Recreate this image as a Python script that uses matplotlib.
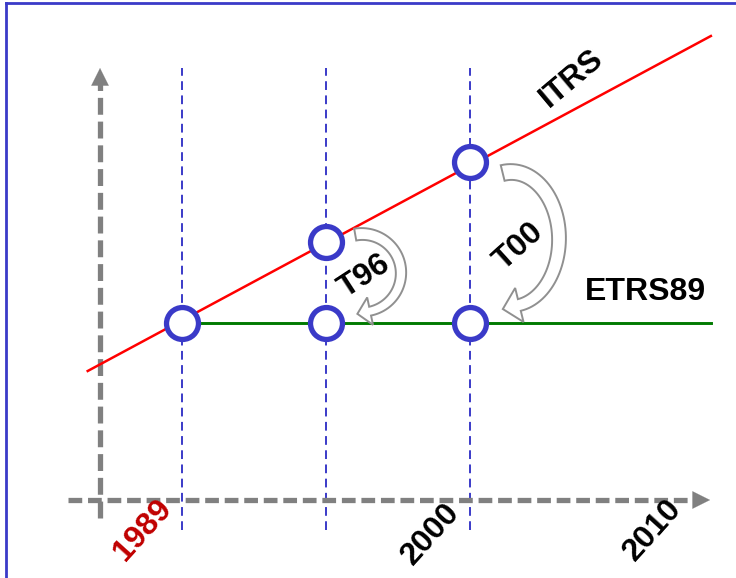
import numpy as np
import matplotlib.pyplot as plt
from matplotlib.patches import Polygon

plt.rcParams['font.family'] = ['Liberation Sans', 'DejaVu Sans']

# Schematic data (x = epoch in years, y = coordinate value, arbitrary units)
epoch_years = [1989, 1994.5, 2000]
etrs_years = [1989, 2009.2]
etrs_values = [17.7, 17.7]
itrs_years = [1985.4, 2009.2]
itrs_values = [12.9, 46.4]
itrs_circle_years = [1994.5, 2000]
itrs_circle_values = [25.8, 33.8]
etrs_circle_values = [17.7, 17.7, 17.7]
tick_years = [1989, 2000, 2010]
tick_labels = ['1989', '2000', '2010']
tick_colors = ['#c00000', 'black', 'black']

blue = '#3a3ac8'
gray = '#808080'

fig = plt.figure(figsize=(7.36, 5.78), dpi=100)
ax = fig.add_axes([0, 0, 1, 1])
ax.set_xlim(1982.05, 2010.16)
ax.set_ylim(-7.8, 50)
ax.axis('off')


def px_to_data(px, py):
    # convert picture pixels to the schematic year/value scale
    return 1989 + (np.asarray(px) - 182) / 26.18, (500 - np.asarray(py)) / 10


def curved_arrow(cx, cy, rx, ry, th0, th1, w0, w1, head_w, head_l):
    # hollow curved arrow following an elliptic arc (pixel space)
    th = np.radians(np.linspace(th0, th1, 60))
    c = np.column_stack([cx + rx * np.cos(th), cy - ry * np.sin(th)])
    t = np.column_stack([rx * np.sin(th), ry * np.cos(th)])
    t /= np.linalg.norm(t, axis=1)[:, None]
    n = np.column_stack([t[:, 1], -t[:, 0]])
    w = np.linspace(w0, w1, len(th))[:, None] / 2
    left = c + w * n
    right = c - w * n
    ce, te, ne = c[-1], t[-1], n[-1]
    head = [ce + head_w / 2 * ne, ce + head_l * te, ce - head_w / 2 * ne]
    pts = np.vstack([left, head, right[::-1]])
    x, y = px_to_data(pts[:, 0], pts[:, 1])
    return Polygon(np.column_stack([x, y]), closed=True, fc='white',
                   ec='#909090', lw=1.4, zorder=4)


# frame (only top and left edges visible)
fig.add_artist(plt.Line2D([0.008, 1.0], [0.9945, 0.9945], color=blue, lw=2,
                          transform=fig.transFigure))
fig.add_artist(plt.Line2D([0.0082, 0.0082], [0.0, 0.9945], color=blue, lw=2,
                          transform=fig.transFigure))

# vertical epoch lines
for yr in epoch_years:
    ax.plot([yr, yr], [-3.0, 43.2], color=blue, lw=1.4,
            linestyle=(0, (4.5, 2.8)), zorder=1)

# dashed gray axes with arrow heads
ax.plot([1984.65, 2008.6], [0, 0], color=gray, lw=3.8,
        linestyle=(0, (2.6, 1.1)), zorder=2, solid_capstyle='butt')
ax.plot([1985.87, 1985.87], [-1.8, 41.8], color=gray, lw=3.8,
        linestyle=(0, (3.2, 1.3)), zorder=2)
ax.annotate('', xy=(2009.17, 0), xytext=(2008.5, 0),
            arrowprops=dict(arrowstyle='-|>,head_length=0.9,head_width=0.45',
                            color=gray, lw=0.1, mutation_scale=14,
                            shrinkA=0, shrinkB=0))
ax.annotate('', xy=(1985.87, 43.2), xytext=(1985.87, 41.8),
            arrowprops=dict(arrowstyle='-|>,head_length=0.9,head_width=0.45',
                            color=gray, lw=0.1, mutation_scale=14,
                            shrinkA=0, shrinkB=0))

# reference frames
ax.plot(itrs_years, itrs_values, color='red', lw=1.8, zorder=3)
ax.plot(etrs_years, etrs_values, color='#007a00', lw=2.1, zorder=3)

# epoch circles
ax.plot(epoch_years, etrs_circle_values, 'o', ms=23, mfc='white', mec=blue,
        mew=3.8, zorder=5, linestyle='none')
ax.plot(itrs_circle_years, itrs_circle_values, 'o', ms=23, mfc='white',
        mec=blue, mew=3.8, zorder=5, linestyle='none')

# transformation arrows
ax.add_patch(curved_arrow(362, 273, 39, 39, 100, -78, 12, 9, 28, 13))
ax.add_patch(curved_arrow(511, 239, 48, 67, 100, -80, 16, 12, 35, 17))

# labels
ax.text(2003.90, 42.2, 'ITRS', rotation=40, fontsize=23, fontweight='bold',
        ha='center', va='center')
ax.text(2006.69, 20.8, 'ETRS89', fontsize=23, fontweight='bold',
        ha='center', va='center')
ax.text(1995.95, 22.4, 'T96', rotation=33, fontsize=23, fontweight='bold',
        ha='center', va='center', zorder=6)
ax.text(2001.85, 25.3, 'T00', rotation=42, fontsize=23, fontweight='bold',
        ha='center', va='center', zorder=6)

tick_pos = [(1987.50, -3.0), (1998.50, -3.4), (2007.00, -3.0)]
for (x, y), lab, col in zip(tick_pos, tick_labels, tick_colors):
    ax.text(x, y, lab, rotation=48, fontsize=23, fontweight='bold',
            color=col, ha='center', va='center')

plt.savefig('out.png', dpi=100)
